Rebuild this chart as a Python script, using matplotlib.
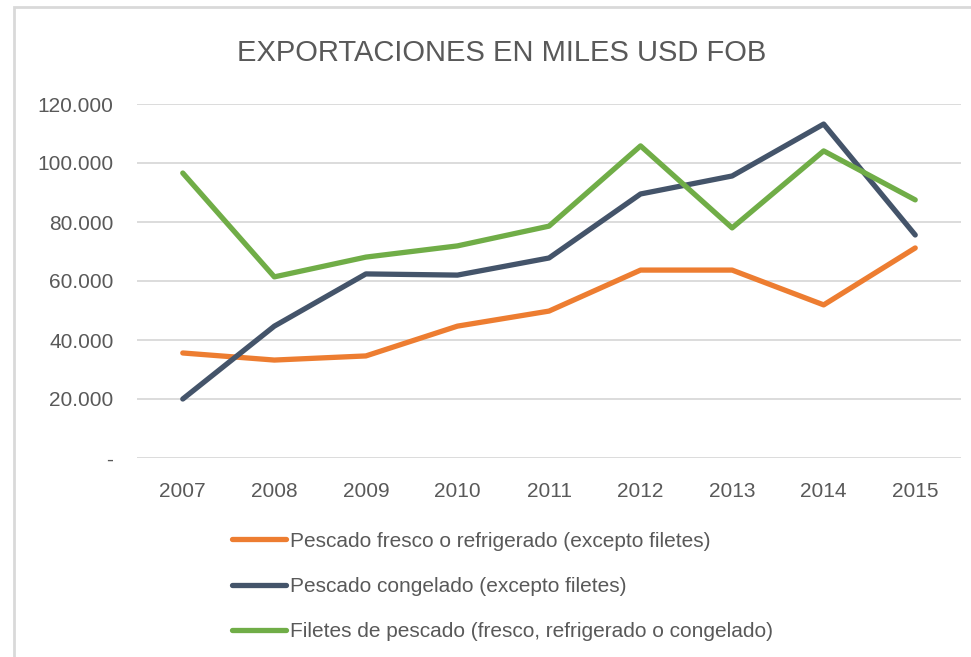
import matplotlib.pyplot as plt
from matplotlib.patches import Rectangle
from matplotlib.ticker import FuncFormatter

years = [2007, 2008, 2009, 2010, 2011, 2012, 2013, 2014, 2015]
fresco = [35.6, 33.2, 34.6, 44.7, 49.8, 63.7, 63.7, 51.9, 71.2]
congelado = [20.0, 44.7, 62.4, 62.0, 67.8, 89.5, 95.6, 113.2, 75.6]
filetes = [96.6, 61.4, 68.1, 71.9, 78.6, 105.8, 78.0, 104.1, 87.5]
labels = ['Pescado fresco o refrigerado (excepto filetes)',
          'Pescado congelado (excepto filetes)',
          'Filetes de pescado (fresco, refrigerado o congelado)']

plt.rcParams['font.family'] = ['Liberation Sans', 'DejaVu Sans']
txt = '#595959'

fig = plt.figure(figsize=(9.71, 6.57), dpi=100)
# outer chart frame
fig.patches.append(Rectangle((14/971, -0.05), 1.1, 1 - 7/657 + 0.05,
                             transform=fig.transFigure, fill=False,
                             edgecolor='#D9D9D9', linewidth=2))
ax = fig.add_axes([137/971, 1 - 458/657, (961 - 137)/971, (458 - 104)/657])

x = list(range(len(years)))
ax.plot(x, [v * 1000 for v in fresco], color='#ED7D31', lw=3.8, solid_capstyle='round', label=labels[0])
ax.plot(x, [v * 1000 for v in congelado], color='#44546A', lw=3.8, solid_capstyle='round', label=labels[1])
ax.plot(x, [v * 1000 for v in filetes], color='#70AD47', lw=3.8, solid_capstyle='round', label=labels[2])

ax.set_xlim(-0.5, len(years) - 0.5)
ax.set_ylim(0, 120000)
ax.set_yticks(range(0, 120001, 20000))
ax.yaxis.set_major_formatter(FuncFormatter(lambda v, p: '-' if v == 0 else f'{int(v):,}'.replace(',', '.')))
ax.set_xticks(x)
ax.set_xticklabels([str(y) for y in years])
ax.grid(axis='y', color='#D9D9D9', lw=1.3)
ax.set_axisbelow(True)
for s in ax.spines.values():
    s.set_visible(False)
ax.tick_params(length=0, labelsize=15, colors=txt)
ax.tick_params(axis='x', pad=17)
ax.tick_params(axis='y', pad=17)

fig.text(0.517, 1 - 53/657, 'EXPORTACIONES EN MILES USD FOB', ha='center', va='center',
         fontsize=21, color=txt)

fig.legend(loc='upper left', bbox_to_anchor=(213/971, 1 - 513/657), frameon=False,
           fontsize=15, labelcolor=txt, handlelength=2.6, handletextpad=0.2,
           labelspacing=1.25)

fig.savefig('out.png', dpi=100)
